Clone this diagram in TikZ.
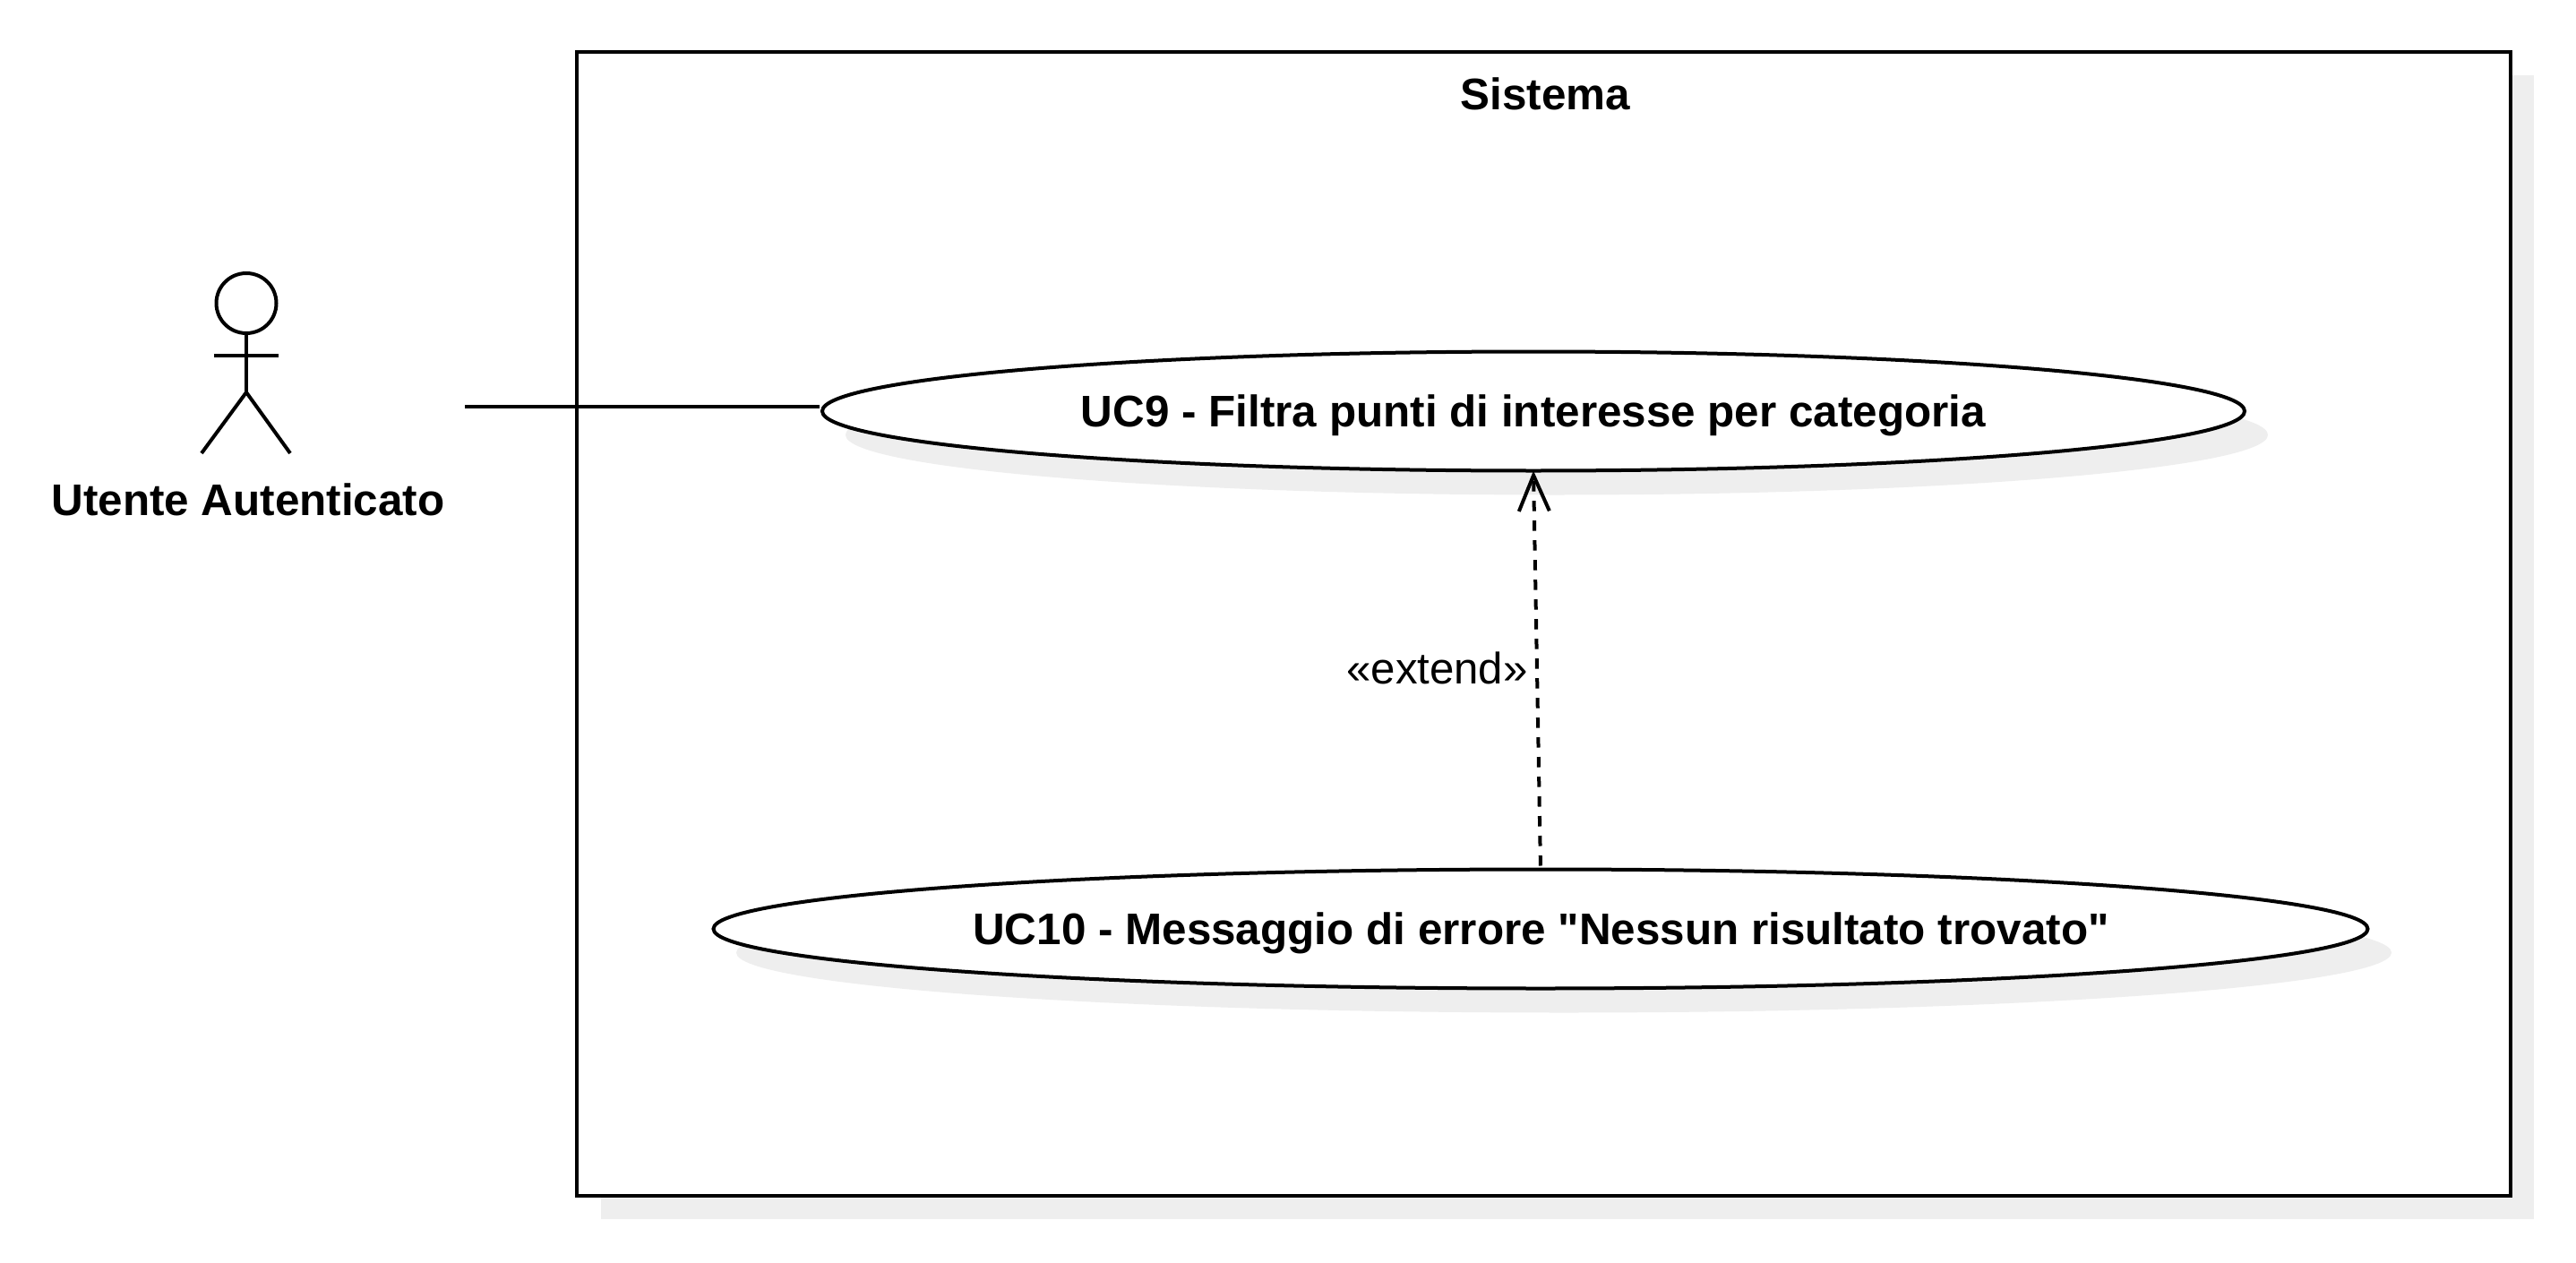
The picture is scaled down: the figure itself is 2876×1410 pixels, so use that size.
\documentclass[tikz,border=0pt]{standalone}
\usepackage{fontspec}
\newfontfamily\libsans{Liberation Sans}
\usetikzlibrary{arrows.meta,shapes.geometric}
\definecolor{shadowgray}{HTML}{EEEEEE}
\tikzset{
  px/.style={x=1pt,y=-1pt},
  stroke/.style={line width=4pt,draw=black},
  usecase/.style={ellipse,stroke,fill=white,inner sep=0pt,outer sep=0pt,minimum height=133pt},
  systembox/.style={rectangle,stroke,fill=white,inner sep=0pt,outer sep=0pt},
  boldlabel/.style={anchor=base,inner sep=0pt,font=\libsans\fontsize{49.4}{58}\selectfont\bfseries},
  plainlabel/.style={anchor=base,inner sep=0pt,font=\libsans\fontsize{49.2}{58}\selectfont},
  extendline/.style={stroke,dash pattern=on 11.5pt off 10.5pt,-{Straight Barb[length=40pt,width=34pt,line width=4pt]}}
}
\begin{document}
\begin{tikzpicture}[px]
\useasboundingbox (0,0) rectangle (2876,1410);
% system with its shadow
\fill[shadowgray] (671,84) rectangle (2829,1361);
\node[systembox,minimum width=2159pt,minimum height=1277pt] (sys) at (1723.5,696.5) {};
\node[boldlabel] (sysl) at (1725.5,123) {Sistema};
% use case shadows
\fill[shadowgray] (1738,485.5) ellipse [x radius=794,y radius=67];
\fill[shadowgray] (1746,1063.5) ellipse [x radius=924,y radius=67];
% actor
\draw[stroke] (275,338.5) ellipse [x radius=33.5,y radius=33.5];
\draw[stroke] (275,372) -- (275,438);
\draw[stroke] (239,397) -- (311,397);
\draw[stroke,line join=miter] (225,506) -- (275,438) -- (324,506);
\node[boldlabel] (actorl) at (277,575) {Utente Autenticato};
\coordinate (actorport) at (519,453.5);
% use cases
\node[usecase,minimum width=1588pt] (uc9) at (1712,459) {};
\node[boldlabel] (uc9l) at (1712,476.5) {UC9 - Filtra punti di interesse per categoria};
\node[usecase,minimum width=1847pt] (uc10) at (1720,1037) {};
\node[boldlabel] (uc10l) at (1720.5,1054.5) {UC10 - Messaggio di errore "Nessun risultato trovato"};
% connectors
\draw[stroke,shorten >=3pt] (actorport) -- (actorport -| uc9.west);
\draw[extendline,shorten <=4pt] (uc10.north) -- node[pos=0.5,plainlabel,xshift=-111.5pt,yshift=-15pt] (ext) {«extend»} (uc9.south);
\end{tikzpicture}
\end{document}
